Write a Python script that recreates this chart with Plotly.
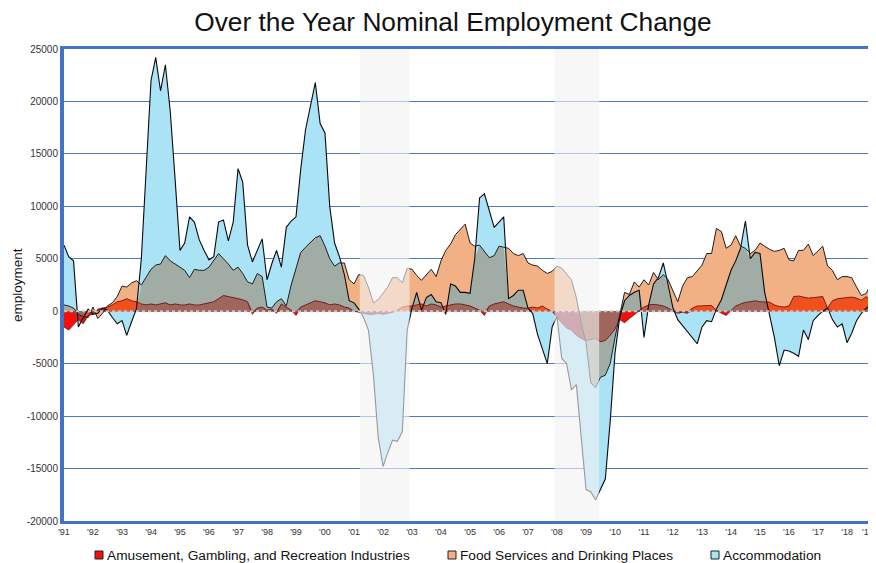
import numpy as np
import pandas as pd
import plotly.graph_objects as go

# ---- data (bi-monthly readings, Jan 1991 .. Jan 2019) ----
dates = pd.date_range("1991-01-01", periods=169, freq="2MS")

accommodation = [
    6300, 5200, 4800, -1500, -600, 200, -300, -200, 300, 100, -600, -1200,
    -900, -2300, -1000, 200, 5000, 13000, 22000, 24200, 21000, 23500, 19000, 12500,
    5800, 6500, 9000, 8500, 6800, 5800, 4900, 5200, 8500, 8700, 6700, 8500,
    13600, 12300, 6300, 4700, 5800, 6900, 3000, 4500, 5800, 4200, 8000, 8600,
    9000, 13500, 17300, 19500, 21800, 17900, 17000, 10000, 6500, 5200, 3500, 1000,
    800, 200, -600, -1800, -6000, -12000, -14800, -13500, -12300, -12400, -11500, -1800,
    300, 1800, 100, 1300, 1600, 900, 800, -300, 2600, 2400, 1800, 1800,
    1700, 5000, 10800, 11200, 9500, 8000, 8500, 9000, 1200, 1500, 2000, 2000,
    300, -200, -2200, -3500, -5000, -1500, -500, -4500, -5000, -7500, -7000, -12000,
    -17000, -17200, -18000, -17000, -16000, -10500, -4000, -600, 1000, 1500, 1800, 2000,
    -2500, 600, 2600, 3200, 4600, 2500, 300, -800, -1400, -2000, -2500, -3100,
    -1500, -900, -1000, 200, 1100, 2500, 3900, 4800, 6000, 8600, 5000, 5600,
    5500, 1800, -300, -2500, -5200, -3700, -3800, -4000, -4300, -1800, -2700, -900,
    -400, 0, 300, -800, -1500, -1200, -3000, -2100, -900, -200, 300, 600,
    800,
]

food_services = [
    600, 500, 300, -300, -500, -600, 400, -700, -200, 500, 800, 1400,
    2400, 2300, 2700, 2900, 2500, 3200, 4000, 4400, 4500, 5300, 4800, 4500,
    4200, 3900, 3200, 4000, 3900, 3900, 4200, 4900, 5500, 5000, 4500, 3900,
    4200, 3600, 2800, 2600, 3600, 3300, 400, 300, 900, 1200, 500, 2500,
    4000, 5600, 6100, 6500, 7000, 7200, 6200, 5000, 4300, 4600, 4600, 3000,
    2600, 3500, 3400, 2300, 800, 1100, 1700, 2300, 3200, 3200, 2700, 4100,
    4000, 3400, 2950, 3500, 4000, 3300, 4800, 5800, 6400, 7300, 7800, 8300,
    6500, 6200, 6300, 5700, 5100, 5300, 6200, 6100, 6000, 5500, 5300, 5500,
    4600, 4400, 4300, 3900, 3600, 3800, 4300, 4100, 3600, 3000, 1300, -1200,
    -3000, -6800, -7300, -6300, -6100, -5000, -2500, -300, 1800, 1600, 2800, 2300,
    3000, 2500, 3700, 3000, 3500, 3000, 2000, 900, 2400, 3200, 3300, 3800,
    4400, 5500, 5500, 7900, 7600, 6000, 6300, 7200, 6200, 6000, 5500, 5800,
    6500, 6200, 5900, 5700, 5800, 6000, 4900, 4800, 5800, 5800, 6400, 5300,
    5800, 6200, 4300, 3900, 3000, 3300, 3300, 3200, 2300, 1500, 1700, 2700,
    3900,
]

amusement = [
    -1500, -1800, -1300, -800, -1200, -400, -300, 200, 300, 400, 600, 900,
    1000, 1200, 1000, 900, 700, 600, 700, 600, 700, 800, 600, 700,
    600, 600, 700, 600, 600, 700, 800, 900, 1200, 1500, 1400, 1300,
    1200, 1100, 900, -300, 300, 400, 100, 200, -200, 700, 400, 100,
    -400, 400, 600, 800, 1000, 900, 800, 600, 700, 600, 400, 300,
    0, -100, -200, -300, -300, -200, -300, -200, -100, 100, 400, 500,
    500, 600, 700, 500, 700, 600, 400, 500, 600, 700, 700, 600,
    500, 300, 100, -400, 500, 700, 800, 900, 700, 500, 400, 300,
    300, 400, 300, 500, 200, 0, -600, -1100, -1600, -1800, -2300, -2600,
    -2800, -2700, -2600, -2900, -2800, -2300, -1700, -800, -1100, -700, -300, 100,
    400, 600, 650, 600, 500, 300, 0, -200, -100, -200, 300, 500,
    500, 550, 550, 100, -200, -400, 100, 500, 700, 850, 900, 1000,
    900, 870, 870, 600, 450, 400, 500, 1400, 1450, 1350, 1250, 1300,
    1350, 1400, 300, 1000, 1200, 1250, 1250, 1350, 1250, 1050, 1400, 900,
    600,
]

series_names = ["Amusement, Gambling, and Recreation Industries",
                "Food Services and Drinking Places",
                "Accommodation"]
year_ticks = list(range(1991, 2020))
y_ticks = [25000, 20000, 15000, 10000, 5000, 0, -5000, -10000, -15000, -20000]
recessions = [("2001-03-15", "2002-12-01"), ("2007-12-01", "2009-06-15")]

# ---- styling ----
C_BLUE = "#aae3f6"
C_ORANGE = "#f2b185"
C_RED = "#f50f0a"
C_BO = "#a1aca4"
C_RO = "#f0501e"
C_RB = "#9a3b55"
C_RBO = "#a0665e"

# page offset (default body margin) and plot-area geometry, in window pixels
OFF = 8
PL, PR, PT, PB = 64, 876, 49, 521
PW, PH = PR - PL, PB - PT
W, H = 876, 563


def px_x(wx):
    return (wx - PL) / PW


def px_y(wy):
    return (PB - wy) / PH


b = np.array(accommodation, dtype=float)
o = np.array(food_services, dtype=float)
r = np.array(amusement, dtype=float)


def pos(*arrs):
    return np.minimum.reduce([np.maximum(a, 0) for a in arrs])


def neg(*arrs):
    return np.maximum.reduce([np.minimum(a, 0) for a in arrs])


fig = go.Figure()


def add_fill(y, color):
    fig.add_trace(go.Scatter(x=dates, y=y, mode="lines", fill="tozeroy",
                             fillcolor=color, line=dict(width=0, color=color),
                             hoverinfo="skip", showlegend=False))


# single-series areas
add_fill(o, C_ORANGE)
add_fill(b, C_BLUE)
add_fill(r, C_RED)
# pairwise overlaps
for arrs, col in [((b, o), C_BO), ((r, o), C_RO), ((r, b), C_RB)]:
    add_fill(pos(*arrs), col)
    add_fill(neg(*arrs), col)
# triple overlap
add_fill(pos(b, o, r), C_RBO)
add_fill(neg(b, o, r), C_RBO)

# outlines
for y, col, w in [(o, "#1e1e1e", 1.0), (b, "#0a0a0a", 1.1), (r, "#4a0a0a", 0.7)]:
    fig.add_trace(go.Scatter(x=dates, y=y, mode="lines", line=dict(color=col, width=w),
                             hoverinfo="skip", showlegend=False))

shapes = [dict(type="line", xref="paper", yref="y", x0=0, x1=1, y0=0, y1=0,
               line=dict(color="#c4c4c4", width=2, dash="dot"), layer="above")]
for x0, x1 in recessions:
    shapes.append(dict(type="rect", xref="x", yref="paper", x0=x0, x1=x1, y0=0, y1=1,
                       fillcolor="rgba(242,242,242,0.62)", line=dict(width=0), layer="above"))

annotations = [dict(text="employment", xref="paper", yref="paper", x=px_x(17),
                    y=0.5, textangle=-90, showarrow=False, xanchor="center",
                    yanchor="middle", font=dict(size=13.5, color="#111"))]

# last year label sits at the right edge: right-align it so it stays inside the page
tick_labels = ["'" + str(y)[2:] for y in year_ticks]
annotations.append(dict(text=tick_labels[-1], xref="paper", yref="paper", x=1.0,
                        y=px_y(532), xanchor="right", yanchor="middle", showarrow=False,
                        font=dict(size=9, color="#333")))
axis_labels = tick_labels[:-1] + [""]

# manual legend (square swatches + labels) along the bottom
legend_pos = [(95, 105), (448, 458), (711, 721)]
LEG_Y = 555
for name, col, (sx, tx) in zip(series_names, [C_RED, C_ORANGE, C_BLUE], legend_pos):
    shapes.append(dict(type="rect", xref="paper", yref="paper",
                       x0=px_x(sx), x1=px_x(sx + 8), y0=px_y(LEG_Y + 4), y1=px_y(LEG_Y - 4),
                       fillcolor=col, line=dict(color="#222", width=1)))
    annotations.append(dict(text=name, xref="paper", yref="paper", x=px_x(tx), y=px_y(LEG_Y),
                            xanchor="left", yanchor="middle", showarrow=False,
                            font=dict(size=13.7, color="#111")))

fig.update_layout(
    width=W, height=H,
    margin=dict(l=PL - OFF, r=W - (PR - OFF), t=PT - OFF, b=H - (PB - OFF), pad=0),
    paper_bgcolor="white", plot_bgcolor="white",
    font=dict(family="Liberation Sans, Arial, sans-serif", color="#222"),
    title=dict(text="Over the Year Nominal Employment Change", x=(453 - OFF) / W,
               xanchor="center", xref="container", y=1 - (22 - OFF) / H,
               yanchor="middle", yref="container", font=dict(size=26.3, color="#111")),
    shapes=shapes,
    annotations=annotations,
    showlegend=False,
)

fig.update_xaxes(
    type="date", range=["1991-01-01", "2019-01-01"], automargin=False,
    tickvals=[f"{y}-01-01" for y in year_ticks],
    ticktext=axis_labels,
    tickfont=dict(size=9, color="#333"), ticks="", showgrid=False,
    showline=True, linecolor="#4472c4", linewidth=3, mirror=True, zeroline=False,
)
fig.update_yaxes(
    range=[-20000, 25000], tickvals=y_ticks, ticktext=[str(v) for v in y_ticks],
    automargin=False,
    tickfont=dict(size=10, color="#333"), ticks="",
    showgrid=True, gridcolor="#4a78cc", gridwidth=1, zeroline=False,
    showline=True, linecolor="#4472c4", linewidth=4, mirror=False,
)

fig.write_html("out.html")
